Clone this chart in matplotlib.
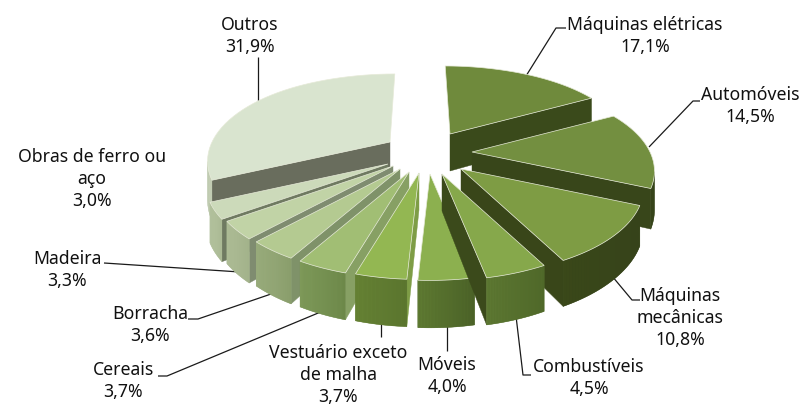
import numpy as np
import matplotlib
matplotlib.use('Agg')
import matplotlib.pyplot as plt
from matplotlib.colors import to_rgb
from matplotlib.patches import Polygon

#
#--- chart data
#
labels = ['Máquinas elétricas\n17,1%', 'Automóveis\n14,5%', 'Máquinas\nmecânicas\n10,8%',
          'Combustíveis\n4,5%', 'Móveis\n4,0%', 'Vestuário exceto\nde malha\n3,7%',
          'Cereais\n3,7%', 'Borracha\n3,6%', 'Madeira\n3,3%',
          'Obras de ferro ou\naço\n3,0%', 'Outros\n31,9%']
values = [17.1, 14.5, 10.8, 4.5, 4.0, 3.7, 3.7, 3.6, 3.3, 3.0, 31.9]

#
#--- styles, one per slice
#
top_col  = ['#6f8a3c', '#738f40', '#7e9c44', '#86a84b', '#8cb04f', '#93b752',
            '#a1be74', '#b4ca91', '#c1d3a6', '#ccdaba', '#d9e4cf']
wall_l   = ['#46591f', '#3c4a1c', '#3a4819', '#5d7832', '#5f7b32', '#668234',
            '#7f9a5a', '#9aad7d', '#afbd97', '#b5c4a0', '#c2cdb3']
wall_r   = ['#3d4d1b', '#36441a', '#36431a', '#4f6829', '#4a6127', '#5a752e',
            '#6c8849', '#8a9e6c', '#a2b28a', '#aab993', '#b6c2a6']
side_col = ['#3a4a1b', '#38461a', '#394619', '#3b4a1b', '#7f9f45', '#7e9d46',
            '#87a064', '#7f9269', '#7f8c70', '#6f7a61', '#696d5d']

#
#--- where each exploded slice has its tip, in pixels
#
tip_x = [450, 472, 461, 442, 430, 419, 409, 400, 393, 388, 390]
tip_y = [135, 153, 170, 175, 175, 174, 173, 170, 167, 165, 143]
draw_order = [10, 0, 1, 2, 9, 8, 7, 6, 5, 4, 3]

#
#--- pie projection
#
rad_x = 178.0
rad_y = 83.0
persp = 0.22
depth = 37.0
mid_x = 420.0

def project(theta, tx, ty):
    """
    project a rim point of a slice to the picture
    input:  theta   --- angle clockwise from 12 o'clock in radian
            tx, ty  --- position of the slice tip
    output: [x, y]  --- pixel position of the top surface point
            f       --- perspective factor
    """
    u = np.sin(theta)
    v = np.cos(theta)
    f = 1.0 / (1.0 + persp * v)
#
#--- far edges lean a bit toward the middle of the pie
#
    lean = (mid_x - tx) * 0.16 * max(v, 0.0) ** 6
    return tx + rad_x * u * f + lean, ty - rad_y * v * f, f

def face(ax, p1, p2, h1, h2, col, zo, lw=0.3):
    pts = [p1, p2, (p2[0], p2[1] + h2), (p1[0], p1[1] + h1)]
    ax.add_patch(Polygon(pts, closed=True, fc=col, ec=col, lw=lw, zorder=zo))

fig = plt.figure(figsize=(8.05, 4.06), dpi=100)
ax  = fig.add_axes([0, 0, 1, 1])
ax.set_xlim(0, 805)
ax.set_ylim(406, 0)
ax.axis('off')

edges = np.concatenate([[0], np.cumsum(values)]) / np.sum(values) * 2 * np.pi

zo = 2
for i in draw_order:
    tx = tip_x[i]
    ty = tip_y[i]
    th = np.linspace(edges[i], edges[i + 1], 40)
    rim = [project(t, tx, ty) for t in th]
    pts = [(r[0], r[1]) for r in rim]
    hgt = [depth * r[2] for r in rim]
#
#--- radial faces show only where the edge runs right to left on the screen
#
    if np.sin(edges[i]) < -0.01:
        face(ax, (tx, ty), pts[0], depth, hgt[0], side_col[i], zo)
    if np.sin(edges[i + 1]) > 0.01:
        face(ax, pts[-1], (tx, ty), hgt[-1], depth, side_col[i], zo)
#
#--- outer wall with a left to right shade; a plain base hides the seams
#--- the far part of the rim has no wall to see
#
    xs  = np.array([p[0] for p in pts])
    vis = [j for j in range(len(pts) - 1) if pts[j + 1][0] < pts[j][0] and np.cos(th[j]) < 0.5]
    if len(vis) > 0:
        mean_col = tuple(0.5 * a + 0.5 * b for a, b in zip(to_rgb(wall_l[i]), to_rgb(wall_r[i])))
        upper = [pts[j] for j in vis] + [pts[vis[-1] + 1]]
        lower = [(pts[j][0], pts[j][1] + hgt[j]) for j in vis]
        lower = lower + [(pts[vis[-1] + 1][0], pts[vis[-1] + 1][1] + hgt[vis[-1] + 1])]
        ax.add_patch(Polygon(upper + lower[::-1], closed=True, fc=mean_col, ec=mean_col,
                             lw=0.3, zorder=zo))
        for j in vis:
            w   = (pts[j][0] - xs.min()) / max(xs.max() - xs.min(), 1.0)
            col = tuple((1 - w) * a + w * b for a, b in zip(to_rgb(wall_l[i]), to_rgb(wall_r[i])))
            face(ax, pts[j], pts[j + 1], hgt[j], hgt[j + 1], col, zo, lw=0.0)
#
#--- top surface
#
    ax.add_patch(Polygon([(tx, ty)] + pts, closed=True, fc=top_col[i], ec='#e6ead8',
                         lw=0.5, zorder=zo))
    zo += 1

#
#--- leader lines
#
leaders = [[(526, 77), (556, 29), (566, 29)],
           [(649, 148), (693, 102), (700, 102)],
           [(612, 277), (632, 301), (640, 301)],
           [(516, 317), (523, 376), (531, 376)],
           [(447, 325), (447, 352)],
           [(381, 322), (381, 338)],
           [(323, 312), (167, 377), (158, 377)],
           [(274, 294), (198, 320), (188, 320)],
           [(240, 273), (104, 264)],
           [(258, 58), (258, 103)]]
for ln in leaders:
    ax.plot([p[0] for p in ln], [p[1] for p in ln], color='#1a1a1a', lw=0.9, zorder=1,
            solid_capstyle='butt')

#
#--- labels
#
label_x = [645, 750, 680, 589, 447, 338, 123, 150, 67, 92, 250]
label_y = [36, 106, 318, 378, 376, 375, 381, 325, 270, 179, 36]
for i in range(len(labels)):
    ax.text(label_x[i], label_y[i], labels[i], ha='center', va='center', fontsize=12.7,
            family='Noto Sans', color='#111111', linespacing=1.32, zorder=30)

plt.savefig('out.png', dpi=100)
